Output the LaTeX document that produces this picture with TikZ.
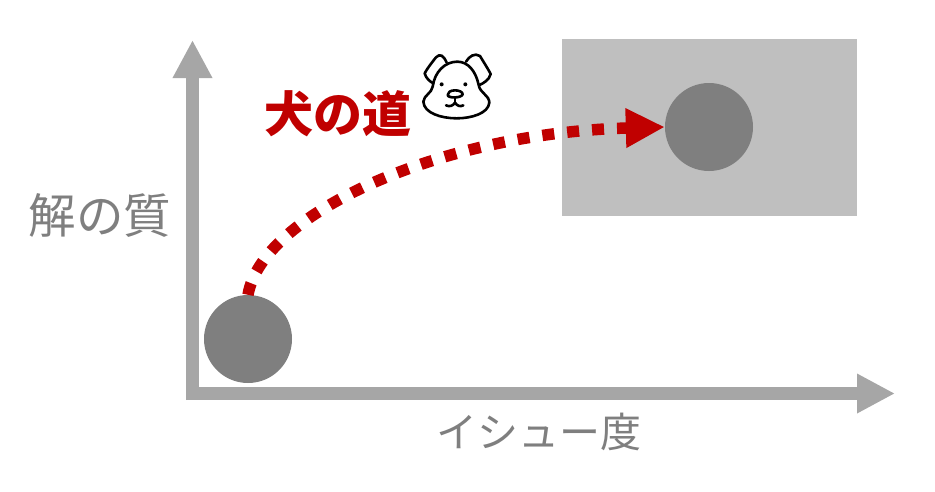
\documentclass[tikz,border=0pt]{standalone}
\usepackage{fontspec}
\usetikzlibrary{arrows.meta}
\newfontfamily\cjk{Noto Sans CJK JP}
\definecolor{axisgray}{HTML}{A6A6A6}
\definecolor{boxgray}{HTML}{BFBFBF}
\definecolor{dotgray}{HTML}{7F7F7F}
\definecolor{roadred}{HTML}{C00000}
\tikzset{
  axisline/.style={draw=axisgray,line width=13pt,-{Triangle[length=38pt,width=37pt]}},
  ball/.style={circle,fill=dotgray,minimum size=88pt,inner sep=0pt},
  zone/.style={fill=boxgray,minimum width=295pt,minimum height=177pt,inner sep=0pt},
  label/.style={text=dotgray,inner sep=0pt,font=\cjk\fontsize{47.5}{50}\selectfont},
  road/.style={draw=roadred,line width=11.5pt,dash pattern=on 12pt off 13pt,-{Triangle[length=39pt,width=37pt]}},
  dogline/.style={draw=black,line width=2.6pt,line cap=round,line join=round},
}
\begin{document}
\begin{tikzpicture}[x=1pt,y=-1pt]
\useasboundingbox (0,0) rectangle (935,491);
\node[zone] (z) at (709.5,127.5) {};
\coordinate (yo) at (192.5,400);
\coordinate (yt) at (192.5,40);
\coordinate (xo) at (186,393.5);
\coordinate (xt) at (895,393.5);
\draw[axisline] (yo) -- (yt);
\draw[axisline] (xo) -- (xt);
\node[ball] (a) at (248,339) {};
\node[ball] (b) at (709,127) {};
\draw[road] (a.north) .. controls (262,214) and (440,133) .. (b.west);
\node[label] (ly) at (100,215) {解の質};
\node[label,font=\cjk\fontsize{41}{45}\selectfont] (lx) at (539,432) {イシュー度};
\node[text=roadred,inner sep=0pt,font=\cjk\bfseries\fontsize{49}{52}\selectfont] (t) at (338,114) {犬の道};
\begin{scope}[shift={(400,30)},x=0.3333pt,y=-0.3333pt,dogline]
\draw (140,98) .. controls (130,75) and (120,70) .. (108,82) .. controls (95,98) and (80,118) .. (74,130) .. controls (78,145) and (90,155) .. (100,160);
\draw (198,95) .. controls (208,78) and (225,68) .. (240,78) .. controls (252,98) and (265,118) .. (272,132) .. controls (268,150) and (250,160) .. (238,165);
\draw (172,95) .. controls (205,95) and (228,125) .. (236,165) .. controls (240,190) and (268,195) .. (268,218) .. controls (265,250) and (215,265) .. (170,265) .. controls (125,265) and (72,250) .. (70,215) .. controls (72,195) and (95,190) .. (98,170) .. controls (104,125) and (135,95) .. (172,95);
\fill[black] (125,163) circle (6);
\fill[black] (196,163) circle (6);
\draw (165,181) .. controls (150,181) and (143,188) .. (143,195) .. controls (143,205) and (185,205) .. (188,193) .. controls (188,186) and (178,181) .. (165,181);
\draw (165,205) -- (165,218);
\draw (138,226) .. controls (150,232) and (160,226) .. (165,218) .. controls (170,226) and (180,232) .. (190,226);
\end{scope}
\end{tikzpicture}
\end{document}
